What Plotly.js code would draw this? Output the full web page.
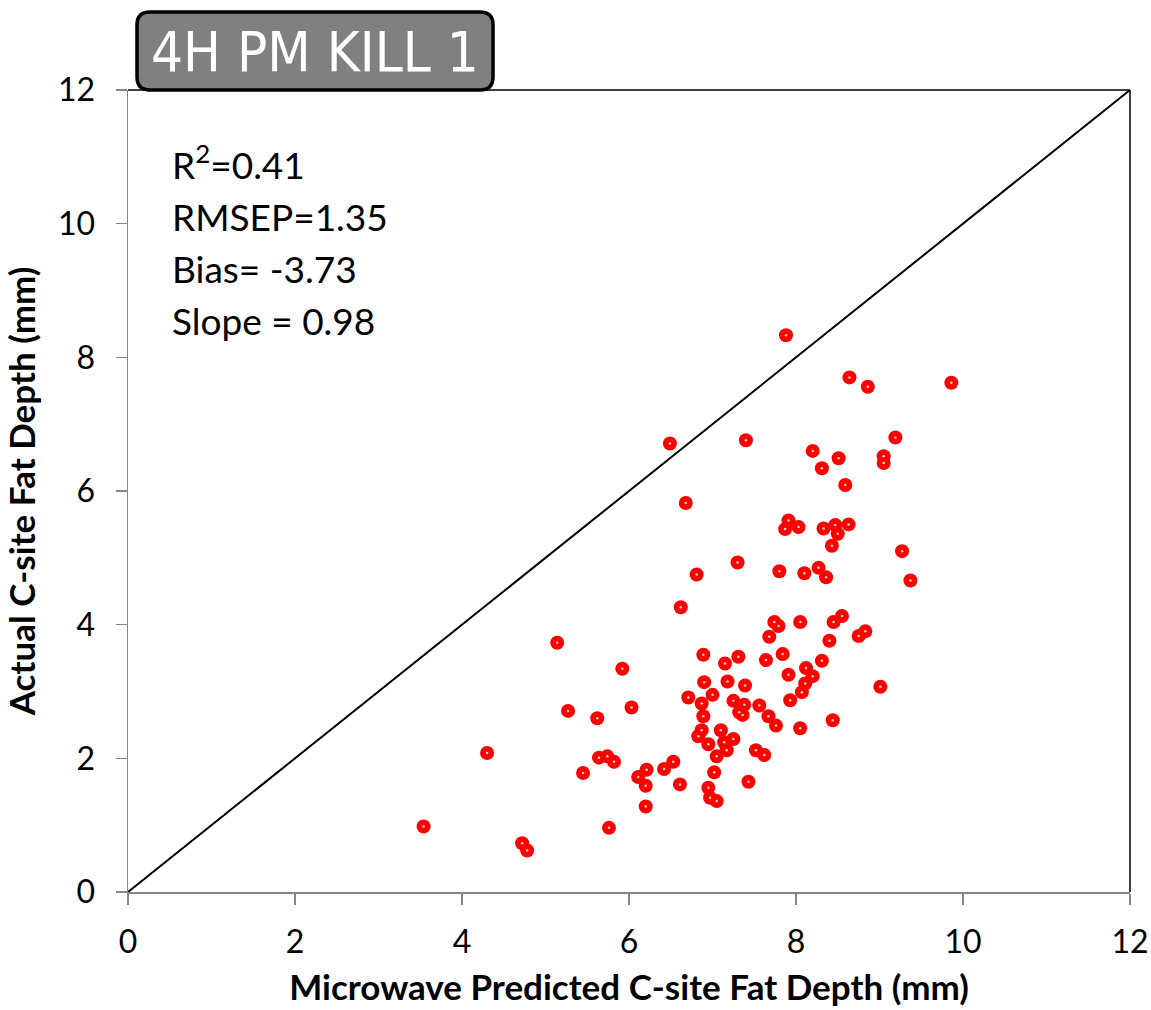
<!DOCTYPE html>
<html>
<head>
<meta charset="utf-8">
<script src="https://cdn.plot.ly/plotly-3.0.1.min.js"></script>
<style>html,body{margin:0;padding:0;background:#fff;}#chart{width:1151px;height:1010px;}</style>
</head>
<body>
<div id="chart"></div>
<script>
// Microwave predicted (x) vs actual (y) C-site fat depth, mm
const predicted = [
  7.88, 8.64, 8.86, 6.49, 7.40, 9.19, 8.20, 8.51, 9.05, 9.05,
  8.31, 8.59, 6.68, 7.91, 7.87, 8.03, 8.33, 8.47, 8.63, 8.50,
  8.43, 9.27, 7.30, 6.81, 7.80, 8.10, 8.27, 8.36, 9.37, 5.14,
  5.92, 5.27, 5.62, 6.03, 4.30, 5.64, 5.74, 5.82, 5.45, 6.11,
  6.21, 6.20, 6.42, 6.53, 6.20, 3.54, 5.76, 4.72, 4.78, 6.61,
  6.62, 7.74, 7.79, 8.05, 8.45, 8.55, 7.68, 8.40, 8.75, 8.83,
  6.89, 7.15, 7.31, 7.64, 7.84, 8.31, 8.12, 8.20, 7.91, 8.11,
  8.07, 9.01, 6.90, 7.18, 7.39, 7.00, 6.71, 6.87, 7.25, 7.38,
  7.56, 7.93, 7.32, 7.36, 6.89, 7.67, 7.76, 8.05, 8.44, 6.87,
  6.83, 7.10, 6.95, 7.14, 7.25, 7.17, 7.05, 7.52, 7.62, 7.02,
  7.43, 6.95, 6.97, 7.05, 9.86
];
const actual = [
  8.33, 7.70, 7.56, 6.71, 6.76, 6.80, 6.60, 6.49, 6.52, 6.42,
  6.34, 6.09, 5.82, 5.56, 5.43, 5.46, 5.44, 5.49, 5.50, 5.36,
  5.18, 5.10, 4.93, 4.75, 4.80, 4.77, 4.85, 4.71, 4.66, 3.73,
  3.34, 2.71, 2.60, 2.76, 2.08, 2.01, 2.03, 1.95, 1.78, 1.72,
  1.83, 1.59, 1.84, 1.95, 1.28, 0.98, 0.96, 0.73, 0.62, 1.61,
  4.26, 4.04, 3.98, 4.04, 4.04, 4.13, 3.82, 3.76, 3.83, 3.90,
  3.55, 3.42, 3.52, 3.47, 3.56, 3.46, 3.35, 3.23, 3.25, 3.12,
  2.99, 3.07, 3.14, 3.15, 3.09, 2.95, 2.91, 2.82, 2.86, 2.80,
  2.79, 2.87, 2.69, 2.65, 2.63, 2.63, 2.49, 2.45, 2.57, 2.42,
  2.33, 2.42, 2.21, 2.24, 2.29, 2.12, 2.03, 2.12, 2.05, 1.79,
  1.65, 1.56, 1.41, 1.36, 7.62
];
const refLineX = [0, 12];
const refLineY = [0, 12];
const tickVals = [0, 2, 4, 6, 8, 10, 12];
const chartTitle = "4H PM KILL 1";
const statLines = ["R<sup>2</sup>=0.41", "RMSEP=1.35", "Bias= -3.73", "Slope = 0.98"];
const xTitle = "Microwave Predicted C-site Fat Depth (mm)";
const yTitle = "Actual C-site Fat Depth (mm)";

// layout geometry (pixels)
const W = 1151, H = 1010, L = 128, R = 21, T = 90, B = 118;
const PW = W - L - R, PH = H - T - B;
const px = v => (v - L) / PW;
const py = v => (H - B - v) / PH;

// rounded title box
const bx0 = 137, bx1 = 493, by0 = 12, by1 = 90, rr = 13;
const rdx = rr / PW, rdy = rr / PH;
const X0 = px(bx0), X1 = px(bx1), Yt = py(by0), Yb = py(by1);
const boxPath = `M ${X0 + rdx},${Yt} L ${X1 - rdx},${Yt} Q ${X1},${Yt} ${X1},${Yt - rdy} ` +
  `L ${X1},${Yb + rdy} Q ${X1},${Yb} ${X1 - rdx},${Yb} L ${X0 + rdx},${Yb} ` +
  `Q ${X0},${Yb} ${X0},${Yb + rdy} L ${X0},${Yt - rdy} Q ${X0},${Yt} ${X0 + rdx},${Yt} Z`;

const font = "Lato, 'Open Sans', sans-serif";
const statY = [162, 216, 268, 320];

const traces = [
  { x: refLineX, y: refLineY, mode: 'lines', line: { color: '#000', width: 2 }, hoverinfo: 'skip', showlegend: false },
  { x: predicted, y: actual, mode: 'markers', type: 'scatter',
    marker: { color: '#ff0000', size: 14, line: { width: 0 } }, showlegend: false },
  { x: predicted, y: actual, mode: 'markers', type: 'scatter',
    marker: { color: '#ffd0d0', size: 2.5, line: { width: 0 } }, hoverinfo: 'skip', showlegend: false }
];

const axisCommon = {
  range: [0, 12], tickvals: tickVals, ticks: 'outside', ticklen: 11, tickwidth: 1.5,
  tickcolor: '#868686', showline: true, linecolor: '#868686', linewidth: 1.5,
  showgrid: false, zeroline: false, tickfont: { family: font, size: 32, color: '#000' },
  fixedrange: true
};

const layout = {
  width: W, height: H,
  margin: { l: L, r: R, t: T, b: B, pad: 0 },
  paper_bgcolor: '#fff', plot_bgcolor: '#fff',
  showlegend: false,
  xaxis: Object.assign({}, axisCommon, {
    ticklabelstandoff: 10,
    title: { text: xTitle, font: { family: font, size: 35, color: '#000', weight: 'bold' }, standoff: 16 }
  }),
  yaxis: Object.assign({}, axisCommon, {
    ticklabelstandoff: 14,
    title: { text: yTitle, font: { family: font, size: 35, color: '#000', weight: 'bold' }, standoff: 16 }
  }),
  shapes: [
    { type: 'line', xref: 'paper', yref: 'paper', x0: 0, x1: 1, y0: 1, y1: 1, line: { color: '#000', width: 1.5 } },
    { type: 'line', xref: 'paper', yref: 'paper', x0: 1, x1: 1, y0: 0, y1: 1, line: { color: '#000', width: 1.5 } },
    { type: 'path', xref: 'paper', yref: 'paper', path: boxPath, fillcolor: '#808080', line: { color: '#000', width: 3.5 }, layer: 'above' }
  ],
  annotations: [
    { xref: 'paper', yref: 'paper', x: px((bx0 + bx1) / 2), y: py((by0 + by1) / 2 + 1), xanchor: 'center', yanchor: 'middle',
      text: chartTitle, showarrow: false,
      font: { family: "'DejaVu Sans Condensed', 'DejaVu Sans', sans-serif", size: 56, color: '#fff' } }
  ].concat(statLines.map((t, i) => ({
    xref: 'paper', yref: 'paper', x: px(170), y: py(statY[i]), xanchor: 'left', yanchor: 'middle',
    text: t, showarrow: false, font: { family: font, size: 37, color: '#000' }
  })))
};

Plotly.newPlot('chart', traces, layout, { displayModeBar: false, staticPlot: true });
</script>
</body>
</html>
